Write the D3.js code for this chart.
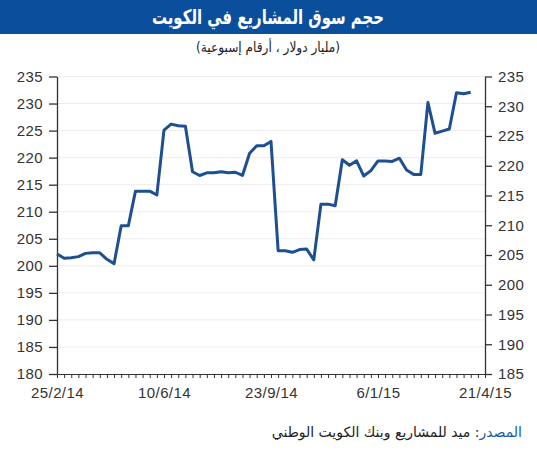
<!DOCTYPE html>
<html lang="ar">
<head>
<meta charset="UTF-8">
<title>حجم سوق المشاريع في الكويت</title>
<style>
body { margin: 0; background: #fff; }
#chart svg { display: block; }
.axis path, .axis line { stroke: #333; }
.axis text { font-family: "Liberation Sans", Arial, sans-serif; font-size: 15px; letter-spacing: 0.4px; fill: #333; }
.grid line { stroke: #ededed; }
</style>
<script src="https://cdn.jsdelivr.net/npm/d3@7"></script>
</head>
<body>
<div id="chart"></div>
<script>
// data (weekly, starting 25/2/14)
var startDate = "2014-02-25";
var values = [
  202.2, 201.4, 201.5, 201.7, 202.3, 202.4, 202.4, 201.2, 200.4, 207.4,
  207.4, 213.8, 213.8, 213.8, 213.1, 225.1, 226.2, 225.9, 225.8, 217.4,
  216.7, 217.2, 217.2, 217.4, 217.2, 217.3, 216.7, 220.8, 222.2, 222.2,
  223.0, 202.8, 202.8, 202.5, 203.0, 203.1, 201.1, 211.4, 211.4, 211.1,
  219.6, 218.6, 219.4, 216.6, 217.6, 219.4, 219.4, 219.3, 219.9, 217.7,
  216.9, 216.9, 230.2, 224.5, 224.9, 225.3, 232.0, 231.8, 232.1
];
var xLabels = ["25/2/14", "10/6/14", "23/9/14", "6/1/15", "21/4/15"];
var leftTicks = [180, 185, 190, 195, 200, 205, 210, 215, 220, 225, 230, 235];
var rightTicks = [185, 190, 195, 200, 205, 210, 215, 220, 225, 230, 235];
var weeksOnAxis = 60;

var width = 537, height = 450;
var x0 = 57, x1 = 485, yTop = 76.5, yBot = 374;

var svg = d3.select("#chart").append("svg")
  .attr("width", width)
  .attr("height", height);

// title banner
svg.append("rect")
  .attr("x", 0).attr("y", 0)
  .attr("width", width).attr("height", 34)
  .attr("fill", "#0b4f9c");
svg.append("text")
  .attr("x", 268).attr("y", 24)
  .attr("text-anchor", "middle")
  .attr("direction", "rtl")
  .attr("textLength", 232)
  .attr("lengthAdjust", "spacingAndGlyphs")
  .style("font-family", "'DejaVu Sans', sans-serif")
  .style("font-weight", "bold")
  .style("font-size", "20px")
  .style("fill", "#fff")
  .text("حجم سوق المشاريع في الكويت");
svg.append("text")
  .attr("x", 268).attr("y", 52)
  .attr("text-anchor", "middle")
  .attr("direction", "rtl")
  .attr("textLength", 144)
  .attr("lengthAdjust", "spacingAndGlyphs")
  .style("font-family", "'DejaVu Sans', sans-serif")
  .style("font-size", "14px")
  .style("fill", "#222")
  .text("(مليار دولار ، أرقام إسبوعية)");

var parse = d3.timeParse("%Y-%m-%d");
var start = parse(startDate);
var data = values.map(function(v, i) {
  return { date: d3.timeDay.offset(start, 7 * i), value: v };
});
var weekDates = d3.range(weeksOnAxis + 1).map(function(i) { return d3.timeDay.offset(start, 7 * i); });
var labelDates = xLabels.map(function(s, i) { return weekDates[i * 15]; });

var x = d3.scaleTime()
  .domain([weekDates[0], weekDates[weeksOnAxis]])
  .range([x0, x1]);
var yL = d3.scaleLinear().domain([180, 235]).range([yBot, yTop]);
var yR = d3.scaleLinear().domain([185, 235]).range([yBot, yTop]);

// grid
svg.append("g").attr("class", "grid")
  .selectAll("line")
  .data(leftTicks.slice(1))
  .enter().append("line")
  .attr("x1", x0).attr("x2", x1)
  .attr("y1", function(d) { return yL(d); })
  .attr("y2", function(d) { return yL(d); });

// left axis
var gL = svg.append("g").attr("class", "axis")
  .attr("transform", "translate(" + x0 + ",0)")
  .call(d3.axisLeft(yL).tickValues(leftTicks).tickSize(8).tickSizeOuter(0).tickPadding(6));

// right axis
var gR = svg.append("g").attr("class", "axis")
  .attr("transform", "translate(" + x1 + ",0)")
  .call(d3.axisRight(yR).tickValues(rightTicks).tickSize(7).tickSizeOuter(0).tickPadding(6));

// bottom axis, weekly minor ticks
svg.append("g").attr("class", "axis")
  .attr("transform", "translate(0," + yBot + ")")
  .call(d3.axisBottom(x).tickValues(weekDates).tickSize(4).tickSizeOuter(0).tickFormat(""));
svg.append("g").attr("class", "axis")
  .attr("transform", "translate(0," + yBot + ")")
  .call(d3.axisBottom(x).tickValues(labelDates).tickSize(0).tickPadding(13)
    .tickFormat(function(d, i) { return xLabels[i]; }))
  .select(".domain").remove();

gL.selectAll("line, path").attr("stroke-width", 1.3);
gR.selectAll("line, path").attr("stroke-width", 1.3);

// series line
svg.append("path")
  .datum(data)
  .attr("fill", "none")
  .attr("stroke", "#1e4f91")
  .attr("stroke-width", 3)
  .attr("stroke-linejoin", "round")
  .attr("d", d3.line()
    .x(function(d) { return x(d.date); })
    .y(function(d) { return yL(d.value); }));

// source
var src = svg.append("text")
  .attr("x", 522).attr("y", 437)
  .attr("text-anchor", "start")
  .attr("direction", "rtl")
  .style("font-family", "'DejaVu Sans', sans-serif")
  .style("font-size", "14px")
  .style("fill", "#222");
src.append("tspan").style("fill", "#1b5aa8").text("المصدر");
src.append("tspan").text(": ميد للمشاريع وبنك الكويت الوطني");
</script>
</body>
</html>
